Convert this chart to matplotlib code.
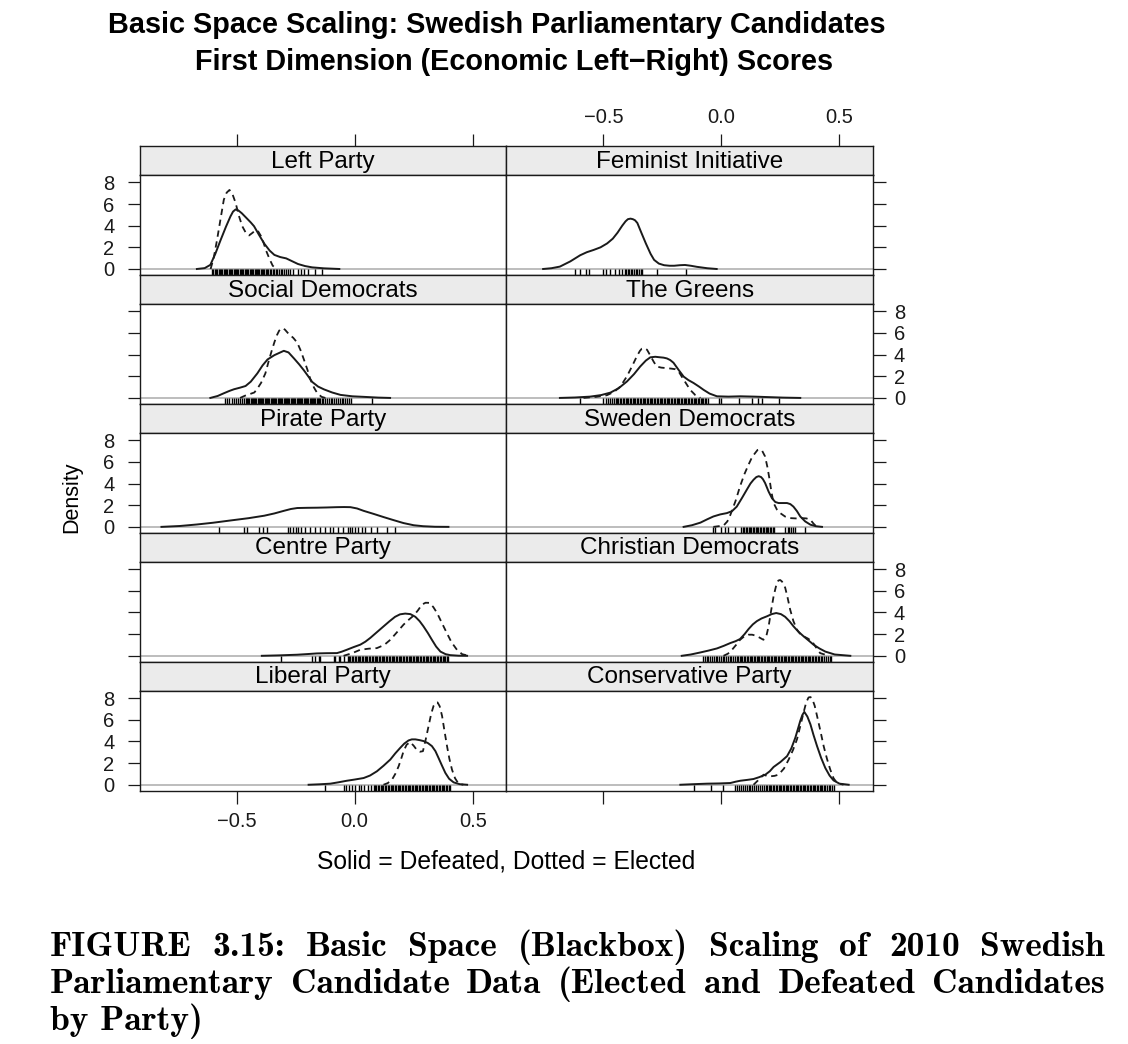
import matplotlib
matplotlib.use('Agg')
import matplotlib.pyplot as plt

plt.rcParams['font.family'] = ['Liberation Sans', 'DejaVu Sans']

# panel names, in lattice order (left column, right column, top to bottom)
parties = ['Left Party', 'Feminist Initiative', 'Social Democrats', 'The Greens',
           'Pirate Party', 'Sweden Democrats', 'Centre Party', 'Christian Democrats',
           'Liberal Party', 'Conservative Party']

# density curves: solid = defeated, dashed = elected
lp_def_x = [-0.668, -0.635, -0.611, -0.59, -0.568, -0.545, -0.526, -0.515, -0.504, -0.492, -0.478, -0.46, -0.44, -0.426, -0.405, -0.383, -0.36, -0.34, -0.315, -0.29, -0.265, -0.24, -0.21, -0.18, -0.13, -0.065]
lp_def_y = [0.0, 0.08, 0.38, 1.4, 2.65, 3.9, 4.85, 5.3, 5.5, 5.4, 5.15, 4.75, 4.3, 3.95, 3.15, 2.35, 1.7, 1.3, 1.1, 0.98, 0.72, 0.46, 0.27, 0.15, 0.06, 0.0]
lp_ele_x = [-0.61, -0.597, -0.583, -0.568, -0.554, -0.542, -0.53, -0.518, -0.504, -0.49, -0.476, -0.461, -0.447, -0.432, -0.419, -0.408, -0.397, -0.386, -0.376, -0.36, -0.347, -0.33]
lp_ele_y = [0.0, 1.0, 2.65, 4.6, 6.4, 7.05, 7.3, 6.95, 6.1, 4.9, 3.95, 3.35, 3.1, 3.35, 3.6, 3.45, 3.05, 2.45, 1.75, 0.9, 0.3, 0.0]

fi_def_x = [-0.755, -0.72, -0.684, -0.64, -0.598, -0.57, -0.541, -0.512, -0.484, -0.46, -0.44, -0.42, -0.406, -0.396, -0.385, -0.375, -0.366, -0.356, -0.34, -0.32, -0.3, -0.285, -0.265, -0.243, -0.22, -0.2, -0.175, -0.154, -0.13, -0.104, -0.06, -0.02]
fi_def_y = [0.0, 0.07, 0.22, 0.7, 1.27, 1.55, 1.76, 2.0, 2.36, 2.8, 3.35, 4.0, 4.4, 4.6, 4.65, 4.6, 4.5, 4.25, 3.4, 2.36, 1.4, 0.84, 0.5, 0.35, 0.3, 0.3, 0.35, 0.37, 0.3, 0.2, 0.07, 0.0]
fi_ele_x = []
fi_ele_y = []

sd_def_x = [-0.611, -0.58, -0.554, -0.53, -0.511, -0.485, -0.462, -0.44, -0.412, -0.39, -0.369, -0.34, -0.32, -0.3, -0.28, -0.257, -0.235, -0.215, -0.195, -0.18, -0.155, -0.13, -0.095, -0.06, -0.01, 0.038, 0.1, 0.15]
sd_def_y = [0.0, 0.18, 0.43, 0.65, 0.8, 0.95, 1.1, 1.5, 2.27, 3.0, 3.55, 3.95, 4.15, 4.35, 4.2, 3.65, 3.1, 2.55, 1.95, 1.48, 1.05, 0.79, 0.5, 0.28, 0.15, 0.1, 0.03, 0.0]
sd_ele_x = [-0.485, -0.465, -0.442, -0.425, -0.414, -0.396, -0.378, -0.364, -0.35, -0.339, -0.329, -0.32, -0.312, -0.303, -0.295, -0.287, -0.279, -0.26, -0.243, -0.229, -0.215, -0.2, -0.187, -0.172, -0.158, -0.14, -0.124]
sd_ele_y = [0.0, 0.2, 0.37, 0.5, 0.79, 1.4, 2.27, 3.4, 4.45, 5.2, 5.8, 6.2, 6.4, 6.42, 6.3, 6.1, 5.9, 5.55, 5.1, 4.4, 3.55, 2.6, 1.68, 0.95, 0.43, 0.1, 0.0]

gr_def_x = [-0.684, -0.62, -0.556, -0.51, -0.47, -0.435, -0.4, -0.37, -0.344, -0.32, -0.301, -0.28, -0.259, -0.245, -0.231, -0.217, -0.203, -0.18, -0.16, -0.14, -0.118, -0.095, -0.075, -0.05, -0.019, 0.03, 0.08, 0.14, 0.193, 0.26, 0.334]
gr_def_y = [0.0, 0.04, 0.12, 0.26, 0.49, 0.9, 1.52, 2.2, 2.9, 3.45, 3.75, 3.8, 3.75, 3.72, 3.65, 3.5, 3.25, 2.55, 1.97, 1.65, 1.38, 1.05, 0.74, 0.4, 0.15, 0.12, 0.15, 0.12, 0.08, 0.03, 0.0]
gr_ele_x = [-0.584, -0.53, -0.485, -0.455, -0.428, -0.4, -0.379, -0.358, -0.345, -0.337, -0.326, -0.315, -0.302, -0.287, -0.274, -0.255, -0.231, -0.21, -0.195, -0.18, -0.168, -0.15, -0.132, -0.11, -0.089]
gr_ele_y = [0.0, 0.1, 0.25, 0.55, 1.05, 2.0, 2.9, 3.85, 4.35, 4.55, 4.6, 4.45, 3.95, 3.35, 2.9, 2.8, 2.75, 2.7, 2.65, 2.4, 1.97, 1.35, 0.74, 0.25, 0.0]

pp_def_x = [-0.818, -0.74, -0.668, -0.6, -0.526, -0.45, -0.383, -0.34, -0.3, -0.27, -0.243, -0.2, -0.16, -0.12, -0.075, -0.045, -0.018, 0.01, 0.038, 0.08, 0.123, 0.165, 0.207, 0.25, 0.29, 0.34, 0.397]
pp_def_y = [0.0, 0.08, 0.22, 0.38, 0.59, 0.8, 1.03, 1.24, 1.48, 1.65, 1.74, 1.76, 1.77, 1.79, 1.82, 1.83, 1.82, 1.7, 1.48, 1.2, 0.9, 0.62, 0.35, 0.15, 0.06, 0.01, 0.0]
pp_ele_x = []
pp_ele_y = []

sw_def_x = [-0.16, -0.125, -0.089, -0.06, -0.034, -0.005, 0.023, 0.045, 0.065, 0.088, 0.108, 0.123, 0.136, 0.148, 0.158, 0.168, 0.176, 0.185, 0.2, 0.214, 0.228, 0.242, 0.26, 0.278, 0.292, 0.305, 0.32, 0.334, 0.355, 0.377, 0.4, 0.426]
sw_def_y = [0.0, 0.15, 0.39, 0.7, 0.96, 1.15, 1.27, 1.45, 1.87, 2.7, 3.45, 4.0, 4.35, 4.6, 4.68, 4.6, 4.4, 4.05, 3.25, 2.65, 2.3, 2.2, 2.2, 2.2, 2.1, 1.87, 1.45, 0.96, 0.5, 0.2, 0.06, 0.0]
sw_ele_x = [-0.034, 0.009, 0.025, 0.038, 0.06, 0.079, 0.098, 0.115, 0.13, 0.144, 0.153, 0.162, 0.172, 0.185, 0.195, 0.204, 0.212, 0.221, 0.235, 0.249, 0.27, 0.291, 0.315, 0.341, 0.36, 0.377, 0.39, 0.404]
sw_ele_y = [0.0, 0.12, 0.5, 1.11, 2.4, 3.75, 4.9, 5.75, 6.45, 6.85, 7.1, 7.15, 7.05, 6.5, 5.5, 4.37, 3.2, 2.2, 1.6, 1.27, 0.95, 0.81, 0.78, 0.81, 0.78, 0.65, 0.3, 0.0]

cp_def_x = [-0.393, -0.32, -0.244, -0.2, -0.16, -0.12, -0.075, -0.055, -0.033, -0.005, 0.024, 0.045, 0.066, 0.095, 0.123, 0.148, 0.171, 0.192, 0.214, 0.236, 0.257, 0.275, 0.291, 0.31, 0.327, 0.345, 0.363, 0.385, 0.405, 0.44, 0.476]
cp_def_y = [0.0, 0.04, 0.1, 0.16, 0.22, 0.24, 0.25, 0.38, 0.56, 0.8, 1.03, 1.3, 1.65, 2.2, 2.73, 3.2, 3.6, 3.83, 3.9, 3.85, 3.6, 3.2, 2.73, 2.1, 1.48, 0.85, 0.39, 0.15, 0.06, 0.01, 0.0]
cp_ele_x = [-0.047, -0.01, 0.024, 0.06, 0.094, 0.125, 0.151, 0.18, 0.207, 0.23, 0.25, 0.268, 0.285, 0.3, 0.317, 0.333, 0.349, 0.37, 0.39, 0.41, 0.433, 0.455, 0.483]
cp_ele_y = [0.0, 0.25, 0.56, 0.66, 0.71, 1.0, 1.48, 2.2, 2.88, 3.35, 3.72, 4.2, 4.73, 4.9, 4.89, 4.5, 3.95, 3.0, 2.11, 1.25, 0.56, 0.15, 0.0]

cd_def_x = [-0.168, -0.13, -0.089, -0.055, -0.019, 0.01, 0.038, 0.06, 0.079, 0.098, 0.115, 0.133, 0.15, 0.17, 0.193, 0.213, 0.232, 0.252, 0.27, 0.288, 0.305, 0.325, 0.348, 0.37, 0.39, 0.415, 0.44, 0.48, 0.546]
cd_def_y = [0.0, 0.12, 0.31, 0.48, 0.68, 0.92, 1.18, 1.35, 1.55, 2.0, 2.47, 2.9, 3.2, 3.45, 3.65, 3.85, 3.95, 3.85, 3.6, 3.2, 2.73, 2.25, 1.8, 1.4, 1.03, 0.68, 0.39, 0.12, 0.0]
cd_ele_x = [0.009, 0.028, 0.045, 0.062, 0.079, 0.097, 0.115, 0.13, 0.144, 0.16, 0.178, 0.19, 0.2, 0.21, 0.221, 0.232, 0.241, 0.249, 0.257, 0.265, 0.27, 0.28, 0.291, 0.305, 0.32, 0.334, 0.348, 0.366, 0.384, 0.4, 0.418, 0.454]
cd_ele_y = [0.0, 0.2, 0.56, 1.0, 1.48, 1.8, 1.95, 1.95, 1.87, 1.7, 1.48, 1.8, 2.73, 4.1, 5.5, 6.5, 6.95, 7.0, 6.85, 6.5, 6.3, 5.4, 4.28, 3.2, 2.42, 2.0, 1.8, 1.6, 1.33, 0.8, 0.25, 0.0]

li_def_x = [-0.195, -0.15, -0.103, -0.07, -0.033, 0.0, 0.038, 0.065, 0.094, 0.122, 0.151, 0.172, 0.193, 0.21, 0.228, 0.242, 0.257, 0.275, 0.292, 0.31, 0.327, 0.342, 0.355, 0.37, 0.384, 0.4, 0.419, 0.445, 0.476]
li_def_y = [0.0, 0.04, 0.1, 0.22, 0.37, 0.48, 0.62, 0.85, 1.24, 1.75, 2.33, 2.9, 3.41, 3.8, 4.09, 4.19, 4.19, 4.12, 4.03, 3.85, 3.57, 3.1, 2.48, 1.75, 1.09, 0.55, 0.22, 0.05, 0.0]
li_ele_x = [0.122, 0.14, 0.158, 0.172, 0.186, 0.197, 0.207, 0.22, 0.235, 0.25, 0.264, 0.277, 0.289, 0.3, 0.313, 0.324, 0.334, 0.343, 0.351, 0.36, 0.37, 0.38, 0.391, 0.401, 0.412, 0.425, 0.44, 0.46]
li_ele_y = [0.0, 0.15, 0.47, 1.0, 1.7, 2.4, 3.1, 3.7, 3.94, 3.6, 3.19, 3.05, 3.1, 4.1, 5.43, 6.55, 7.28, 7.58, 7.6, 7.25, 6.36, 5.0, 3.57, 2.4, 1.4, 0.6, 0.09, 0.0]

co_def_x = [-0.174, -0.12, -0.061, -0.01, 0.038, 0.06, 0.08, 0.11, 0.136, 0.16, 0.186, 0.205, 0.221, 0.25, 0.278, 0.296, 0.313, 0.324, 0.334, 0.343, 0.351, 0.364, 0.377, 0.39, 0.405, 0.422, 0.44, 0.458, 0.475, 0.5, 0.539]
co_def_y = [0.0, 0.05, 0.1, 0.12, 0.16, 0.28, 0.37, 0.45, 0.53, 0.7, 0.93, 1.25, 1.64, 2.1, 2.64, 3.35, 4.34, 5.15, 5.9, 6.45, 6.73, 6.3, 5.58, 4.6, 3.57, 2.5, 1.55, 0.85, 0.4, 0.1, 0.0]
co_ele_x = [0.136, 0.155, 0.179, 0.192, 0.207, 0.225, 0.242, 0.265, 0.285, 0.303, 0.32, 0.335, 0.348, 0.359, 0.369, 0.377, 0.384, 0.395, 0.405, 0.42, 0.433, 0.447, 0.461, 0.475, 0.49, 0.517]
co_ele_y = [0.0, 0.4, 0.93, 0.82, 0.78, 0.82, 0.93, 1.5, 2.33, 3.2, 4.19, 5.5, 6.67, 7.6, 8.06, 8.1, 7.97, 7.3, 6.36, 4.9, 3.57, 2.4, 1.4, 0.6, 0.16, 0.0]

# rug (individual candidate scores)
lp_rug = [-0.603, -0.598, -0.592, -0.587, -0.581, -0.576, -0.571, -0.566, -0.56, -0.555,
          -0.55, -0.545, -0.539, -0.534, -0.529, -0.524, -0.518, -0.513, -0.508, -0.503,
          -0.497, -0.492, -0.487, -0.482, -0.476, -0.471, -0.466, -0.461, -0.455, -0.45,
          -0.445, -0.44, -0.434, -0.429, -0.424, -0.419, -0.413, -0.408, -0.403, -0.398,
          -0.392, -0.387, -0.382, -0.377, -0.371, -0.366, -0.36, -0.354, -0.347, -0.341,
          -0.334, -0.328, -0.321, -0.313, -0.306, -0.298, -0.29, -0.281, -0.272, -0.262,
          -0.242, -0.228, -0.214, -0.199, -0.166, -0.138]
fi_rug = [-0.62, -0.598, -0.573, -0.559, -0.501, -0.487, -0.47, -0.449, -0.435, -0.42,
          -0.41, -0.402, -0.396, -0.39, -0.385, -0.378, -0.371, -0.363, -0.356, -0.349,
          -0.342, -0.335, -0.274, -0.15]
sd_rug = [-0.55, -0.541, -0.532, -0.52, -0.513, -0.503, -0.495, -0.486, -0.476, -0.468,
          -0.461, -0.456, -0.451, -0.446, -0.441, -0.436, -0.431, -0.426, -0.421, -0.416,
          -0.411, -0.406, -0.401, -0.396, -0.391, -0.386, -0.381, -0.376, -0.371, -0.366,
          -0.361, -0.356, -0.351, -0.346, -0.341, -0.336, -0.331, -0.326, -0.321, -0.316,
          -0.311, -0.306, -0.301, -0.296, -0.291, -0.286, -0.281, -0.276, -0.271, -0.266,
          -0.261, -0.256, -0.251, -0.246, -0.241, -0.236, -0.231, -0.226, -0.221, -0.216,
          -0.211, -0.206, -0.201, -0.196, -0.191, -0.186, -0.181, -0.176, -0.171, -0.166,
          -0.161, -0.156, -0.151, -0.146, -0.14, -0.132, -0.124, -0.116, -0.109, -0.101,
          -0.094, -0.086, -0.079, -0.07, -0.063, -0.055, -0.048, -0.04, -0.031, -0.024,
          -0.016, 0.075]
gr_rug = [-0.6, -0.5, -0.49, -0.48, -0.472, -0.462, -0.455,
          -0.448, -0.442, -0.436, -0.43, -0.424, -0.418, -0.412, -0.406, -0.4, -0.394,
          -0.388, -0.382, -0.376, -0.37, -0.364, -0.358, -0.352, -0.346, -0.34, -0.334,
          -0.328, -0.322, -0.316, -0.31, -0.304, -0.298, -0.292, -0.286, -0.28, -0.274,
          -0.268, -0.262, -0.256, -0.25, -0.244, -0.238, -0.232, -0.226, -0.22, -0.214,
          -0.208, -0.202, -0.196, -0.19, -0.184, -0.178, -0.172, -0.166, -0.16, -0.154,
          -0.148, -0.142, -0.136, -0.13, -0.124, -0.118, -0.112, -0.106, -0.1, -0.094,
          -0.088, -0.082, -0.076, -0.07, -0.064, -0.058, -0.01, 0.0, 0.075, 0.13, 0.153,
          0.173, 0.243]
pp_rug = [-0.575, -0.469, -0.454, -0.405, -0.39, -0.372, -0.283, -0.272, -0.262, -0.248,
          -0.241, -0.226, -0.212, -0.191, -0.17, -0.148, -0.127, -0.105, -0.091, -0.07,
          -0.048, -0.03, -0.02, -0.01, 0.001, 0.016, 0.03, 0.044, 0.07, 0.094, 0.137, 0.172]
sw_rug = [-0.036, -0.028, 0.0, 0.014, 0.029, 0.057, 0.085, 0.091, 0.097, 0.103, 0.109,
          0.115, 0.121, 0.127, 0.133, 0.139, 0.145, 0.151, 0.157, 0.163, 0.169, 0.175,
          0.181, 0.187, 0.193, 0.199, 0.205, 0.211, 0.217, 0.221, 0.271, 0.28, 0.288,
          0.296, 0.304, 0.313, 0.352]
cp_rug = [-0.31, -0.18, -0.166, -0.152, -0.145, -0.089, -0.082, -0.068, -0.06, -0.045,
          -0.03, -0.024, -0.018, -0.012, -0.006, 0.0, 0.006, 0.012, 0.018, 0.024, 0.03,
          0.036, 0.042, 0.048, 0.054, 0.06, 0.066, 0.072, 0.078, 0.084, 0.09, 0.096,
          0.102, 0.108, 0.114, 0.12, 0.126, 0.132, 0.138, 0.144, 0.15, 0.156, 0.162,
          0.168, 0.174, 0.18, 0.186, 0.192, 0.198, 0.204, 0.21, 0.216, 0.222, 0.228,
          0.234, 0.24, 0.246, 0.252, 0.258, 0.264, 0.27, 0.276, 0.282, 0.288, 0.294,
          0.3, 0.306, 0.312, 0.318, 0.324, 0.33, 0.336, 0.342, 0.348, 0.354, 0.36,
          0.366, 0.372, 0.378, 0.384, 0.39, 0.396]
cd_rug = [-0.078, -0.07, -0.063, -0.055, -0.048, -0.04, -0.033, -0.025, -0.018, -0.01,
          -0.003, 0.005, 0.012, 0.02, 0.027, 0.035, 0.042, 0.05, 0.057, 0.065, 0.071,
          0.077, 0.083, 0.089, 0.095, 0.101, 0.107, 0.113, 0.119, 0.125, 0.131, 0.137,
          0.143, 0.149, 0.155, 0.161, 0.167, 0.173, 0.179, 0.185, 0.191, 0.197, 0.203,
          0.209, 0.215, 0.221, 0.227, 0.233, 0.239, 0.245, 0.251, 0.257, 0.263, 0.269,
          0.275, 0.281, 0.287, 0.293, 0.299, 0.305, 0.311, 0.317, 0.323, 0.329, 0.335,
          0.341, 0.347, 0.353, 0.359, 0.365, 0.371, 0.377, 0.383, 0.389, 0.395, 0.401,
          0.407, 0.414, 0.421, 0.428, 0.436, 0.443, 0.45, 0.458, 0.466]
li_rug = [-0.125, -0.047, -0.036, -0.026, -0.011, 0.003, 0.017, 0.027, 0.038, 0.055,
          0.069, 0.08, 0.086, 0.092, 0.098, 0.104, 0.11, 0.116, 0.122, 0.128, 0.134,
          0.14, 0.146, 0.152, 0.158, 0.164, 0.17, 0.176, 0.182, 0.188, 0.194, 0.2,
          0.206, 0.212, 0.218, 0.224, 0.23, 0.236, 0.242, 0.248, 0.254, 0.26, 0.266,
          0.272, 0.278, 0.284, 0.29, 0.296, 0.302, 0.308, 0.314, 0.32, 0.326, 0.332,
          0.338, 0.344, 0.35, 0.356, 0.362, 0.368, 0.374, 0.38, 0.386, 0.392, 0.398, 0.404]
co_rug = [-0.118, -0.044, 0.007, 0.059, 0.067, 0.075, 0.083, 0.091, 0.099, 0.107,
          0.115, 0.123, 0.131, 0.139, 0.147, 0.155, 0.163, 0.171, 0.179, 0.187, 0.195,
          0.2, 0.206, 0.212, 0.218, 0.224, 0.23, 0.236, 0.242, 0.248, 0.254, 0.26,
          0.266, 0.272, 0.278, 0.284, 0.29, 0.296, 0.302, 0.308, 0.314, 0.32, 0.326,
          0.332, 0.338, 0.344, 0.35, 0.356, 0.362, 0.368, 0.374, 0.38, 0.386, 0.392,
          0.398, 0.404, 0.41, 0.416, 0.422, 0.428, 0.434, 0.44, 0.446, 0.455, 0.462,
          0.47, 0.478]

xticks = [-0.5, 0.0, 0.5]
xticklabels = ['\u22120.5', '0.0', '0.5']
yticks = [0, 2, 4, 6, 8]

defeated = [(lp_def_x, lp_def_y), (fi_def_x, fi_def_y), (sd_def_x, sd_def_y), (gr_def_x, gr_def_y),
            (pp_def_x, pp_def_y), (sw_def_x, sw_def_y), (cp_def_x, cp_def_y), (cd_def_x, cd_def_y),
            (li_def_x, li_def_y), (co_def_x, co_def_y)]
elected = [(lp_ele_x, lp_ele_y), (fi_ele_x, fi_ele_y), (sd_ele_x, sd_ele_y), (gr_ele_x, gr_ele_y),
           (pp_ele_x, pp_ele_y), (sw_ele_x, sw_ele_y), (cp_ele_x, cp_ele_y), (cd_ele_x, cd_ele_y),
           (li_ele_x, li_ele_y), (co_ele_x, co_ele_y)]
rugs = [lp_rug, fi_rug, sd_rug, gr_rug, pp_rug, sw_rug, cp_rug, cd_rug, li_rug, co_rug]

W, H = 1128, 1044
fig = plt.figure(figsize=(W / 100, H / 100), dpi=100)


def box(x0, y0, x1, y1):
    # pixel box (top-left origin) -> figure fraction rect
    return [x0 / W, 1 - y1 / H, (x1 - x0) / W, (y1 - y0) / H]


cols = [(139.5, 506.3), (506.3, 873.0)]
top0, pitch, strip_h = 146.0, 128.94, 29.0
xlim = (-0.911, 0.642)
ylim = (-0.55, 8.68)
ink = '#1a1a1a'
tick_kw = dict(direction='out', length=9, width=0.9, labelsize=14.5, colors=ink)

for i, name in enumerate(parties):
    r, c = i // 2, i % 2
    x0, x1 = cols[c]
    top = top0 + r * pitch

    st = fig.add_axes(box(x0, top, x1, top + strip_h))
    st.set_facecolor('#ebebeb')
    st.set_xlim(xlim)
    st.set_ylim(0, 1)
    st.set_yticks([])
    st.text(0.5, 0.46, name, transform=st.transAxes, ha='center', va='center',
            fontsize=17.5, color='black')
    if r == 0:
        st.xaxis.tick_top()
        st.set_xticks(xticks)
        st.set_xticklabels(xticklabels)
        st.tick_params(axis='x', pad=5, labeltop=(c == 1), **tick_kw)
    else:
        st.set_xticks([])
    for sp in st.spines.values():
        sp.set_linewidth(1.0)
        sp.set_color(ink)

    ax = fig.add_axes(box(x0, top + strip_h, x1, top + pitch))
    ax.set_xlim(xlim)
    ax.set_ylim(ylim)
    ax.axhline(0, color='#b8b8b8', lw=1.3, zorder=1)
    dx, dy = defeated[i]
    ax.plot(dx, dy, color=ink, lw=1.4, zorder=3, solid_joinstyle='round')
    ex, ey = elected[i]
    if ex:
        ax.plot(ex, ey, color=ink, lw=1.3, ls=(0, (3.5, 2.6)), zorder=3)
    ax.vlines(rugs[i], 0, 0.06, transform=ax.get_xaxis_transform(), color='black', lw=1.0, zorder=2)

    ax.set_yticks(yticks)
    if c == 0:
        ax.tick_params(axis='y', left=True, right=False, labelleft=(r % 2 == 0),
                       labelright=False, pad=9, **tick_kw)
    else:
        ax.tick_params(axis='y', left=False, right=True, labelleft=False,
                       labelright=(r % 2 == 1), pad=6, **tick_kw)
    if r == 4:
        ax.set_xticks(xticks)
        ax.set_xticklabels(xticklabels)
        ax.tick_params(axis='x', labelbottom=(c == 0), pad=6, **tick_kw)
    else:
        ax.set_xticks([])
    for sp in ax.spines.values():
        sp.set_linewidth(1.0)
        sp.set_color(ink)

fig.text(497 / W, 1 - 25 / H, 'Basic Space Scaling: Swedish Parliamentary Candidates',
         ha='center', va='center', fontsize=20.8, fontweight='bold')
fig.text(514 / W, 1 - 62 / H, 'First Dimension (Economic Left\u2212Right) Scores',
         ha='center', va='center', fontsize=20.8, fontweight='bold')
fig.text(72 / W, 1 - 497 / H, 'Density', rotation=90, ha='center', va='center', fontsize=15.5)
fig.text(506 / W, 1 - 862 / H, 'Solid = Defeated, Dotted = Elected',
         ha='center', va='center', fontsize=17.7)

# caption, justified like the LaTeX original
cap_font = dict(fontsize=25.5, family=['cmb10', 'DejaVu Serif'], va='baseline', ha='left')
cap_lines = [('FIGURE 3.15: Basic Space (Blackbox) Scaling of 2010 Swedish', 956, True),
             ('Parliamentary Candidate Data (Elected and Defeated Candidates', 993, True),
             ('by Party)', 1030, False)]
renderer = fig.canvas.get_renderer()
for line, yb, just in cap_lines:
    if not just:
        fig.text(50 / W, 1 - yb / H, line, **cap_font)
        continue
    words = line.split(' ')
    texts = [fig.text(0, 1 - yb / H, w, **cap_font) for w in words]
    widths = [t.get_window_extent(renderer).width for t in texts]
    gap = (1105 - 50 - sum(widths)) / (len(words) - 1)
    xpos = 50
    for t, w in zip(texts, widths):
        t.set_x(xpos / W)
        xpos += w + gap

fig.savefig('out.png', dpi=100)
